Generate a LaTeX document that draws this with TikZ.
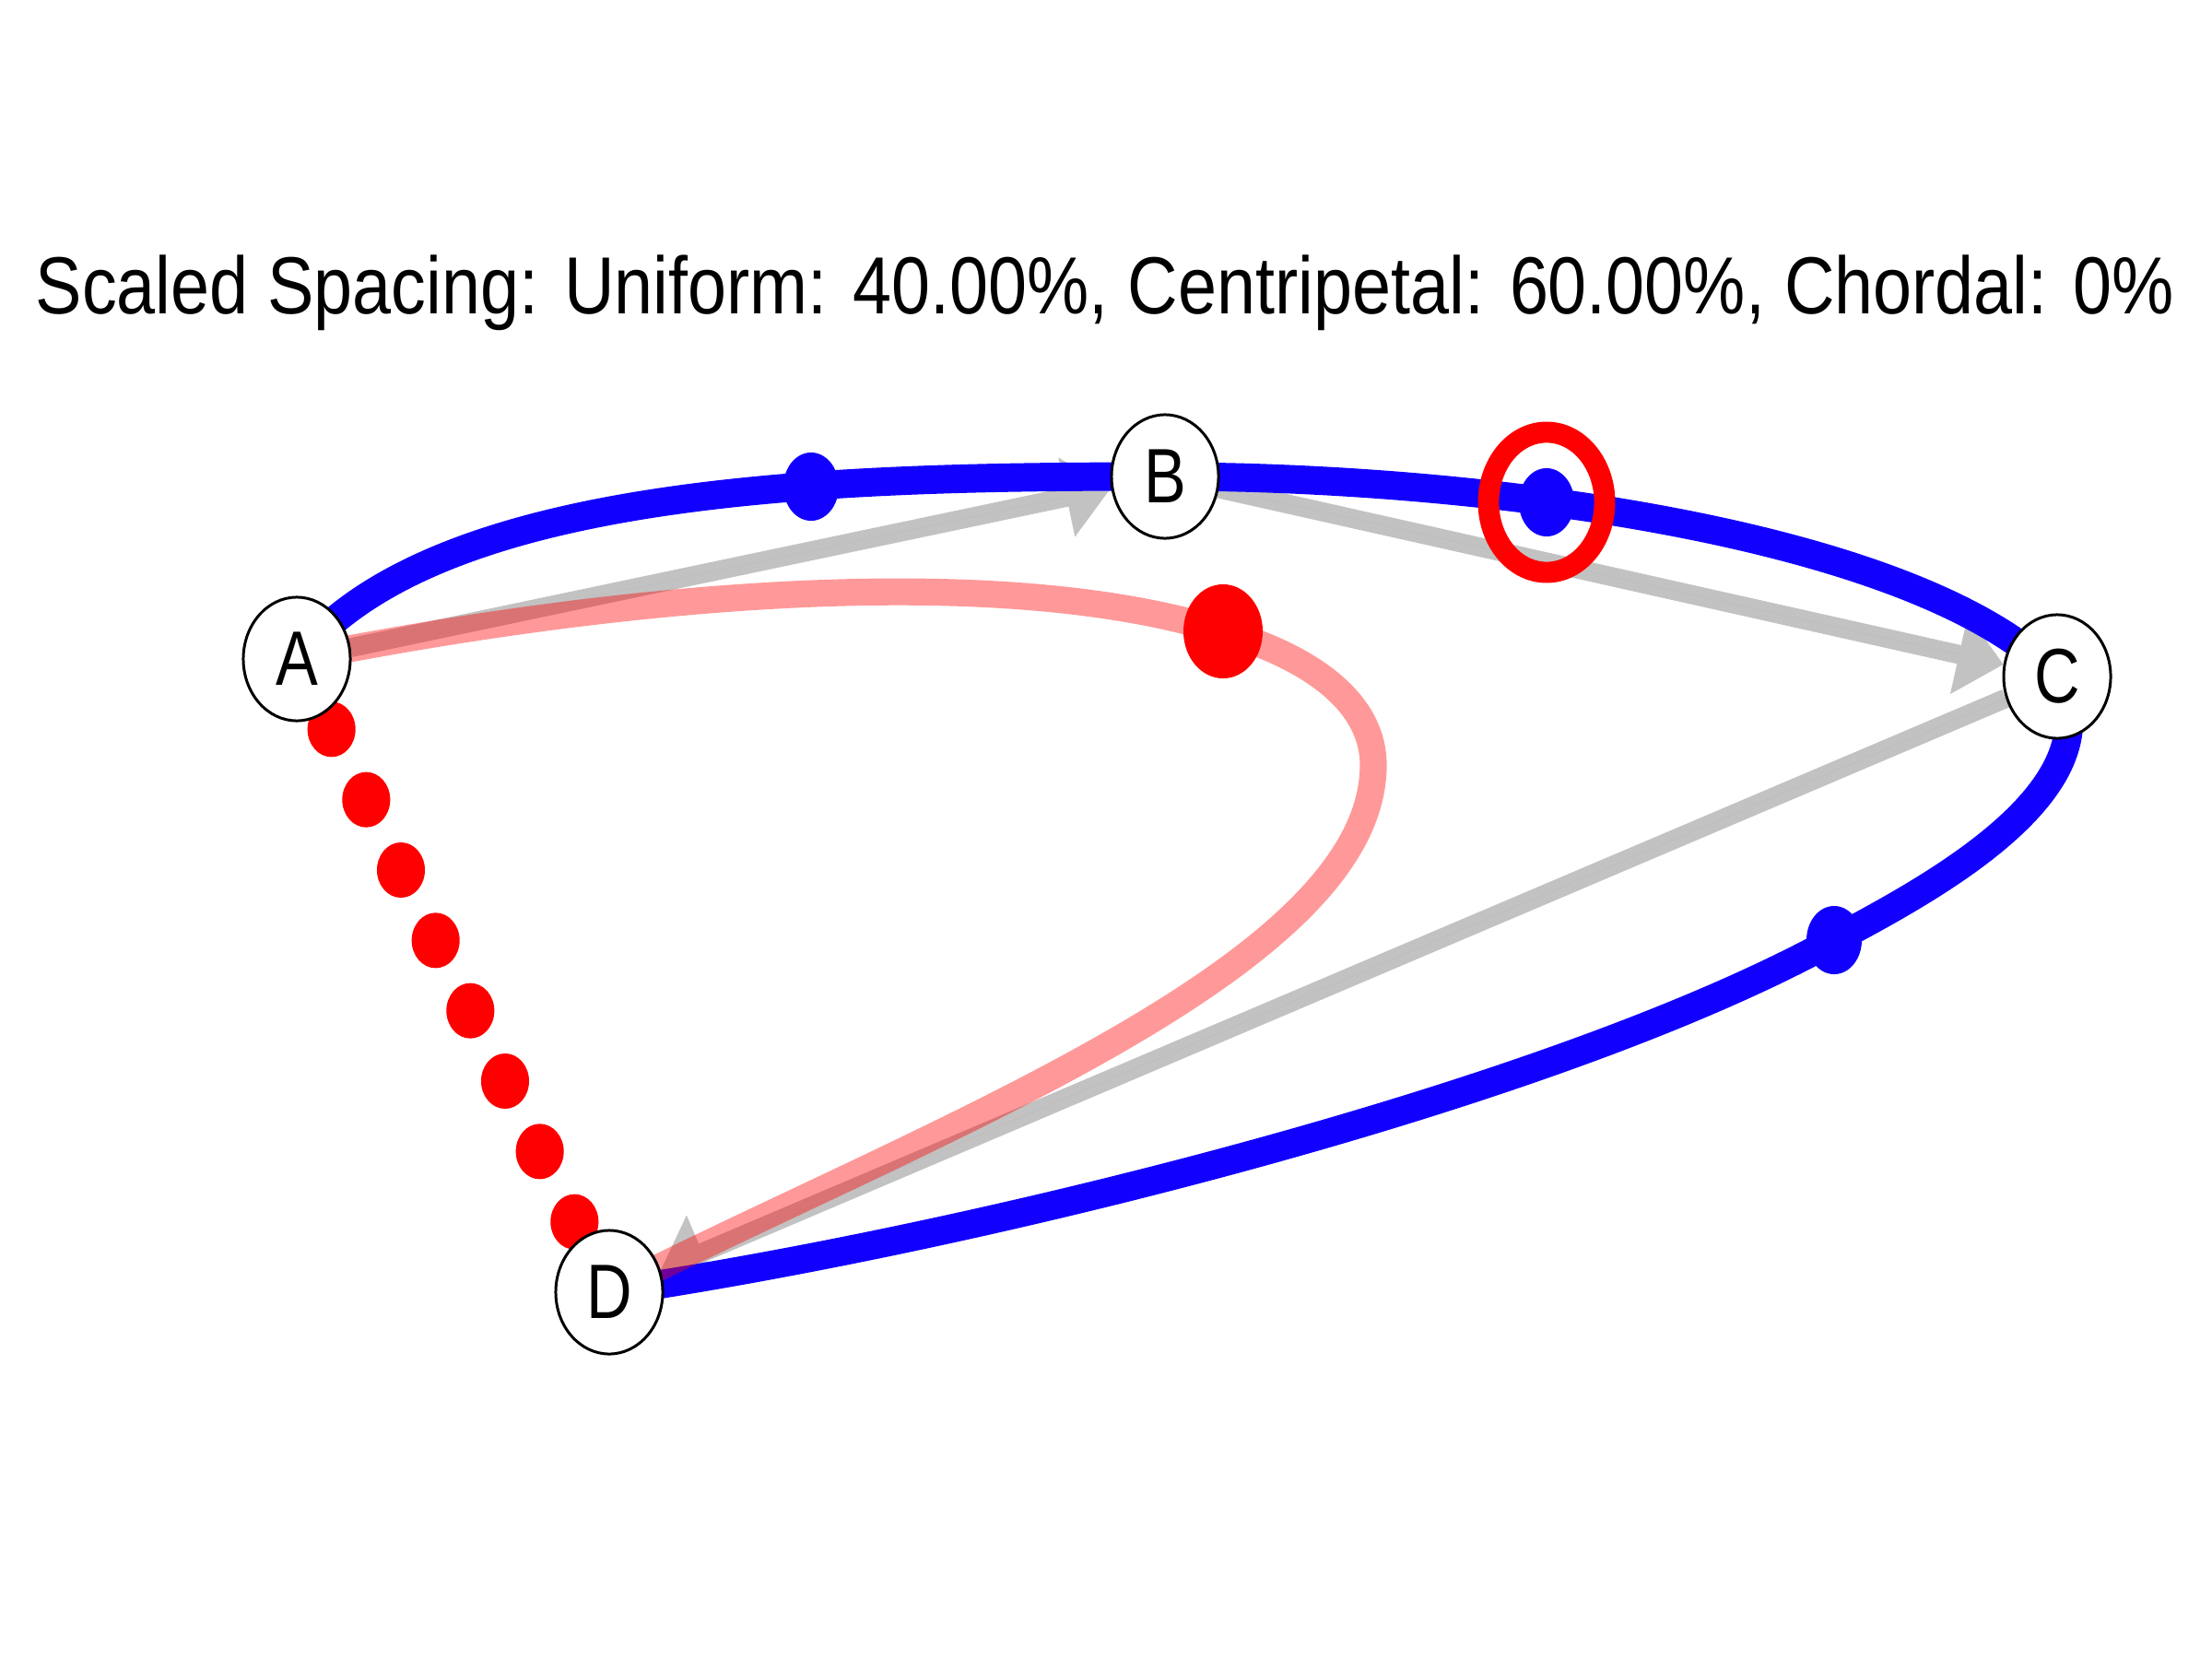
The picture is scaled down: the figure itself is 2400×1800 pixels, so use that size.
\documentclass[tikz,border=0pt]{standalone}
\usepackage{fontspec}
\usepackage{graphicx}
\setmainfont{Liberation Sans}
\usetikzlibrary{shapes.geometric,arrows.meta,calc,backgrounds}
\definecolor{splineblue}{RGB}{18,0,255}
\begin{document}
\begin{tikzpicture}[x=0.01cm,y=-0.01cm,
  vert/.style={ellipse, draw=black, line width=0.85pt, fill=white,
    minimum width=1.16cm, minimum height=1.34cm, inner sep=0pt,
    font=\fontsize{23.8}{24}\selectfont},
  ctrl/.style={draw=black!40, fill=black!40, opacity=0.6, line width=5.9pt,
    -{Triangle[length=14pt,width=25pt,line width=0pt]}},
  spline/.style={draw=splineblue, line width=8.8pt},
  pinkline/.style={draw=red, draw opacity=0.4, line width=8.3pt},
  bluedot/.style={ellipse, fill=splineblue, minimum width=0.6cm, minimum height=0.74cm, inner sep=0pt},
  reddot/.style={ellipse, fill=red, minimum width=0.86cm, minimum height=1.02cm, inner sep=0pt},
  chorddot/.style={ellipse, fill=red, minimum width=0.52cm, minimum height=0.6cm, inner sep=0pt},
  ring/.style={ellipse, draw=red, line width=6.5pt, minimum width=1.26cm, minimum height=1.52cm, inner sep=0pt}
]
\useasboundingbox (0,0) rectangle (2400,1800);

% title
\node[anchor=base west, inner sep=0pt] (title) at (38,340)
  {\resizebox{23.19cm}{\height}{\fontsize{25}{30}\selectfont Scaled Spacing: Uniform: 40.00\%, Centripetal: 60.00\%, Chordal: 0\%}};

% vertices
\node[vert] (A) at (322,715) {\scalebox{0.82}[1]{A}};
\node[vert] (B) at (1264,517) {\scalebox{0.82}[1]{B}};
\node[vert] (C) at (2232,734) {\scalebox{0.82}[1]{C}};
\node[vert] (D) at (661,1402) {\scalebox{0.82}[1]{D}};

\coordinate (m1) at (1990,1020);
\coordinate (rdpos) at (1327,685);
\coordinate (pe) at (1490,830);

\begin{scope}[on background layer]
  % control polygon
  \draw[ctrl] (A) -- (B);
  \draw[ctrl] (B) -- (C);
  \draw[ctrl] (C) -- (D);
  % blue spline
  \draw[spline] (A.center) .. controls (472,525) and (914,517) .. (B.center)
     .. controls (1614,517) and (2082,580) .. (C.center)
     .. controls (2300,860) and (2078,972) .. (m1)
     .. controls (1683,1189) and (1056,1344) .. (D.center);
  % pink curve
  \draw[pinkline] (A.center) .. controls (672,645) and (1080,608) .. (rdpos)
     .. controls (1437,718) and (1490,770) .. (pe)
     .. controls (1490,1050) and (1000,1230) .. (D.center);
  % dots on the spline
  \node[bluedot] (b1) at (880,528) {};
  \node[bluedot] (b2) at (1678,545) {};
  \node[bluedot] (b3) at (m1) {};
  \node[ring] (r2) at (b2) {};
  \node[reddot] (rd) at (rdpos) {};
  % chord dots from A to D
  \foreach \k in {1,...,8}
    \node[chorddot] (c\k) at ($(A.center)!\k/9!(D.center)$) {};
\end{scope}
\end{tikzpicture}
\end{document}
